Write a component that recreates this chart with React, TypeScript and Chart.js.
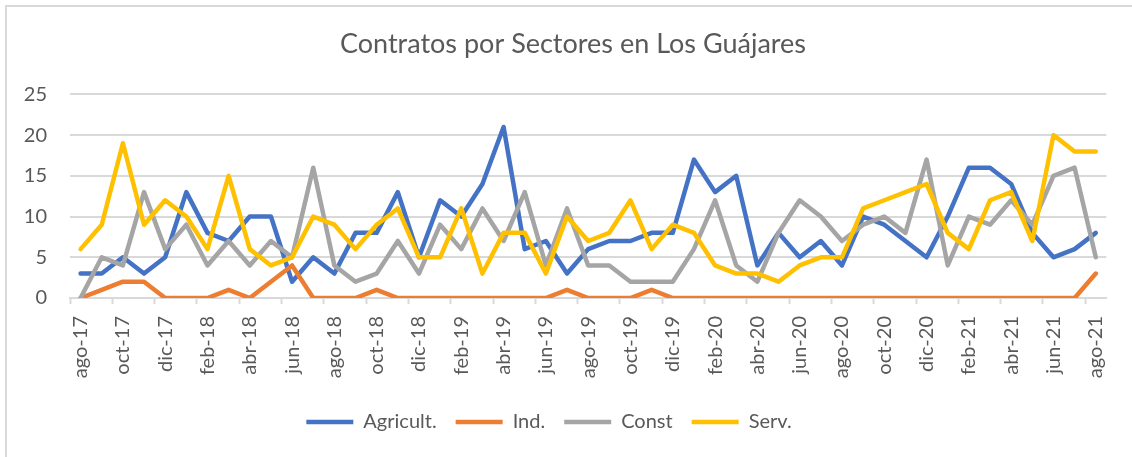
import React, { useEffect, useRef } from "react";
import { Chart, registerables } from "chart.js";

Chart.register(...registerables);

const labels = [
  "ago-17", "sep-17", "oct-17", "nov-17", "dic-17", "ene-18", "feb-18", "mar-18", "abr-18", "may-18",
  "jun-18", "jul-18", "ago-18", "sep-18", "oct-18", "nov-18", "dic-18", "ene-19", "feb-19", "mar-19",
  "abr-19", "may-19", "jun-19", "jul-19", "ago-19", "sep-19", "oct-19", "nov-19", "dic-19", "ene-20",
  "feb-20", "mar-20", "abr-20", "may-20", "jun-20", "jul-20", "ago-20", "sep-20", "oct-20", "nov-20",
  "dic-20", "ene-21", "feb-21", "mar-21", "abr-21", "may-21", "jun-21", "jul-21", "ago-21",
];

const agricult = [
  3, 3, 5, 3, 5, 13, 8, 7, 10, 10,
  2, 5, 3, 8, 8, 13, 5, 12, 10, 14,
  21, 6, 7, 3, 6, 7, 7, 8, 8, 17,
  13, 15, 4, 8, 5, 7, 4, 10, 9, 7,
  5, 10, 16, 16, 14, 8, 5, 6, 8,
];

const ind = [
  0, 1, 2, 2, 0, 0, 0, 1, 0, 2,
  4, 0, 0, 0, 1, 0, 0, 0, 0, 0,
  0, 0, 0, 1, 0, 0, 0, 1, 0, 0,
  0, 0, 0, 0, 0, 0, 0, 0, 0, 0,
  0, 0, 0, 0, 0, 0, 0, 0, 3,
];

const constr = [
  0, 5, 4, 13, 6, 9, 4, 7, 4, 7,
  5, 16, 4, 2, 3, 7, 3, 9, 6, 11,
  7, 13, 4, 11, 4, 4, 2, 2, 2, 6,
  12, 4, 2, 8, 12, 10, 7, 9, 10, 8,
  17, 4, 10, 9, 12, 9, 15, 16, 5,
];

const serv = [
  6, 9, 19, 9, 12, 10, 6, 15, 6, 4,
  5, 10, 9, 6, 9, 11, 5, 5, 11, 3,
  8, 8, 3, 10, 7, 8, 12, 6, 9, 8,
  4, 3, 3, 2, 4, 5, 5, 11, 12, 13,
  14, 8, 6, 12, 13, 7, 20, 18, 18,
];

const seriesNames = ["Agricult.", "Ind.", "Const", "Serv."];
const seriesColors = ["#4472C4", "#ED7D31", "#A5A5A5", "#FFC000"];
const yTicks = [0, 5, 10, 15, 20, 25];

const TEXT = "#595959";
const GRID = "#D9D9D9";
const FONT = "Lato, 'Noto Sans', sans-serif";

const shiftBoxes = {
  id: "shiftBoxes",
  afterLayout(chart: any) {
    const lg = chart.legend;
    if (lg) {
      lg.left -= 6;
      lg.right -= 6;
    }
    const tt = chart.titleBlock;
    if (tt) {
      tt.left += 18;
      tt.right += 18;
    }
  },
};

export default function App() {
  const ref = useRef<HTMLCanvasElement | null>(null);

  useEffect(() => {
    if (!ref.current) return;
    const values = [agricult, ind, constr, serv];
    const chart = new Chart(ref.current, {
      type: "line",
      data: {
        labels,
        datasets: values.map((d, i) => ({
          label: seriesNames[i],
          data: d,
          borderColor: seriesColors[i],
          backgroundColor: seriesColors[i],
          borderWidth: 4.5,
          pointRadius: 0,
          pointHoverRadius: 0,
          tension: 0,
          borderCapStyle: "round" as const,
          borderJoinStyle: "round" as const,
          order: 4 - i,
        })),
      },
      plugins: [shiftBoxes],
      options: {
        responsive: false,
        animation: false,
        layout: { padding: { left: 0, right: 22, top: 0, bottom: 15 } },
        plugins: {
          title: {
            display: true,
            text: "Contratos por Sectores en Los Guájares",
            color: TEXT,
            font: { family: FONT, size: 27, weight: "normal" },
            padding: { top: 28, bottom: 34 },
          },
          legend: {
            position: "bottom",
            labels: {
              color: TEXT,
              font: { family: FONT, size: 20 },
              usePointStyle: true,
              pointStyle: "line",
              pointStyleWidth: 47,
              padding: 19,
              sort: (a: any, b: any) => a.datasetIndex - b.datasetIndex,
            },
          },
          tooltip: { enabled: false },
        },
        scales: {
          x: {
            offset: true,
            grid: {
              offset: true,
              drawOnChartArea: false,
              drawTicks: true,
              tickLength: 6,
              tickWidth: 2,
              tickColor: (ctx: any) => (ctx.index % 2 === 0 ? GRID : "rgba(0,0,0,0)"),
            },
            border: { display: true, color: GRID, width: 2 },
            ticks: {
              autoSkip: false,
              maxRotation: 90,
              minRotation: 90,
              padding: 12,
              color: TEXT,
              font: { family: FONT, size: 20 },
              callback: (_v: any, i: number) => (i % 2 === 0 ? labels[i] : ""),
            },
            afterFit: (s: any) => {
              s.height = 95;
            },
          },
          y: {
            min: yTicks[0],
            max: yTicks[yTicks.length - 1],
            ticks: {
              stepSize: 5,
              padding: 23,
              color: TEXT,
              font: { family: FONT, size: 20 },
            },
            grid: { color: GRID, lineWidth: 2, drawTicks: false },
            border: { display: false },
            afterFit: (s: any) => {
              s.width = 70;
            },
          },
        },
      },
    });
    return () => chart.destroy();
  }, []);

  return (
    <div style={{ position: "fixed", left: 0, top: 0, width: 1132, height: 457, overflow: "hidden", background: "#fff" }}>
      <div
        style={{
          position: "absolute",
          left: 5,
          top: 5,
          width: 1200,
          height: 600,
          borderLeft: "2px solid #D9D9D9",
          borderTop: "2px solid #D9D9D9",
        }}
      />
      <canvas ref={ref} width={1132} height={457} style={{ position: "absolute", left: 0, top: 0 }} />
    </div>
  );
}
